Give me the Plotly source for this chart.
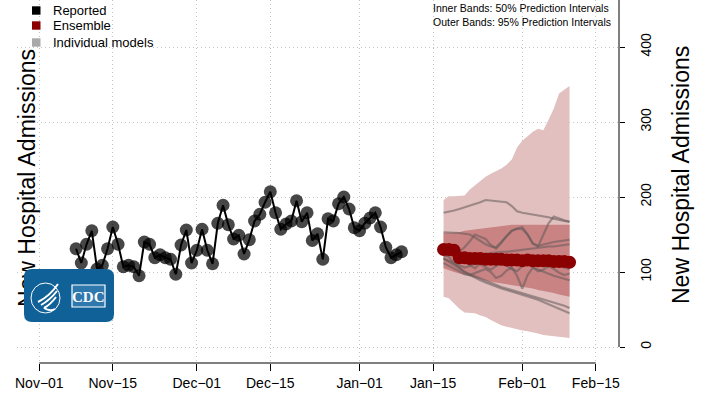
import pandas as pd
import plotly.graph_objects as go

# reported daily admissions, 2021-11-08 .. 2022-01-09
reported_start = '2021-11-08'
reported = [131, 112, 137, 155, 104, 109, 131, 160, 137, 107,
            109, 107, 95, 140, 137, 119, 123, 119, 117, 97,
            136, 156, 112, 129, 157, 129, 111, 165, 189, 163,
            144, 149, 124, 143, 168, 177, 193, 207, 179, 157,
            164, 168, 195, 167, 179, 142, 151, 117, 171, 168,
            191, 200, 184, 159, 155, 165, 172, 179, 160, 133,
            119, 123, 127]

# forecast, 2022-01-17 .. 2022-02-10
forecast_start = '2022-01-17'
ensemble = [130, 130, 129, 119, 119, 118, 118, 118, 117, 117, 117, 117, 116,
            116, 116, 115, 116, 115, 115, 115, 115, 114, 114, 114, 113]
q95_hi = [196, 201, 201, 201, 202, 210, 216, 222, 227, 231, 234, 238, 243,
          250, 266, 275, 281, 287, 291, 289, 303, 318, 338, 343, 348]
q95_lo = [67, 65, 58, 51, 46, 45, 45, 42, 40, 36, 32, 29, 27,
          25, 23, 22, 21, 20, 18, 16, 15, 14, 13, 12, 12]
q50_hi = [152, 152, 152, 153, 155, 156, 157, 158, 159, 160, 161, 162, 162,
          163, 163, 163, 163, 164, 164, 164, 164, 164, 163, 163, 163]
q50_lo = [105, 102, 100, 98, 96, 94, 92, 90, 88, 87, 86, 85, 84,
          82, 81, 80, 79, 78, 76, 75, 73, 72, 70, 69, 67]

model_a = [179, 180, 182, 184, 186, 188, 191, 193, 196, 195, 195, 194, 193,
           188, 181, 179, 178, 177, 176, 175, 173, 171, 169, 168, 167]
model_b = [125, 120, 112, 106, 100, 96, 92, 89, 86, 83, 80, 78, 76,
           74, 72, 70, 68, 65, 63, 60, 57, 54, 51, 48, 45]
model_c = [118, 114, 110, 105, 100, 97, 94, 91, 88, 85, 82, 80, 78,
           76, 74, 71, 69, 67, 65, 63, 61, 59, 57, 55, 52]
model_d = [128, 127, 126, 127, 133, 141, 150, 147, 144, 136, 131, 139, 148,
           155, 158, 160, 150, 138, 134, 150, 165, 174, 171, 169, 167]
model_e = [153, 153, 152, 152, 151, 150, 146, 141, 137, 134, 133, 140, 148,
           155, 158, 157, 150, 138, 135, 137, 139, 140, 141, 142, 143]
model_f = [121, 122, 123, 122, 121, 122, 123, 124, 124, 125, 126, 127, 127,
           128, 129, 130, 131, 131, 132, 133, 134, 134, 135, 136, 137]
model_g = [112, 108, 104, 100, 97, 96, 99, 102, 104, 100, 92, 95, 102,
           106, 95, 78, 96, 106, 103, 100, 97, 95, 93, 91, 89]
model_h = [118, 115, 111, 108, 106, 108, 112, 110, 106, 103, 108, 112, 109,
           104, 101, 108, 112, 106, 101, 103, 108, 104, 99, 96, 98]
model_i = [125, 124, 122, 118, 114, 110, 105, 112, 118, 116, 112, 110, 115,
           120, 118, 112, 110, 116, 120, 118, 114, 110, 108, 106, 104]
models = [model_a, model_b, model_c, model_d, model_e, model_f, model_g, model_h, model_i]

tick_dates = ['2021-11-01', '2021-11-15', '2021-12-01', '2021-12-15',
              '2022-01-01', '2022-01-15', '2022-02-01', '2022-02-15']
tick_text = ['Nov−01', 'Nov−15', 'Dec−01', 'Dec−15',
             'Jan−01', 'Jan−15', 'Feb−01', 'Feb−15']
y_ticks = [0, 100, 200, 300, 400]

rep_dates = pd.date_range(reported_start, periods=len(reported), freq='D')
fc_dates = pd.date_range(forecast_start, periods=len(ensemble), freq='D')

W, H = 702, 394
L, R, T, B = 17, 619, 0, 363
FONT = 'Liberation Sans, Arial, sans-serif'
GRID = dict(showgrid=True, gridcolor='#c4c4c4', griddash='1px,3px', gridwidth=1)


def X(px):
    return (px - L) / (R - L)


def Y(py):
    return (B - py) / (B - T)


origin = pd.Timestamp(tick_dates[0])
x_range = [str(origin - pd.Timedelta(days=4.25)), str(origin + pd.Timedelta(days=110.42))]
y_range = [-21.3, 462.7]

fig = go.Figure()

# outer band (95%)
fig.add_trace(go.Scatter(x=fc_dates, y=q95_lo, mode='lines', line=dict(width=0),
                         showlegend=False, hoverinfo='skip'))
fig.add_trace(go.Scatter(x=fc_dates, y=q95_hi, mode='lines', line=dict(width=0),
                         fill='tonexty', fillcolor='#e2c0c0', showlegend=False))
# inner band (50%)
fig.add_trace(go.Scatter(x=fc_dates, y=q50_lo, mode='lines', line=dict(width=0),
                         showlegend=False, hoverinfo='skip'))
fig.add_trace(go.Scatter(x=fc_dates, y=q50_hi, mode='lines', line=dict(width=0),
                         fill='tonexty', fillcolor='#c98383', showlegend=False))

for m in models:
    fig.add_trace(go.Scatter(x=fc_dates, y=m, mode='lines',
                             line=dict(color='rgba(100,90,90,0.55)', width=2.2),
                             showlegend=False))

fig.add_trace(go.Scatter(x=fc_dates, y=ensemble, mode='markers',
                         marker=dict(color='#8b0000', size=13, line=dict(width=0)),
                         showlegend=False))

fig.add_trace(go.Scatter(x=rep_dates, y=reported, mode='lines+markers',
                         line=dict(color='black', width=2),
                         marker=dict(color='rgba(0,0,0,0.72)', size=13, line=dict(width=0)),
                         showlegend=False))

shapes = []
# x axis line between first and last tick (R style)
shapes.append(dict(type='line', xref='x', yref='paper', x0=tick_dates[0], x1=tick_dates[-1],
                   y0=0, y1=0, line=dict(color='black', width=1)))
# right axis line
shapes.append(dict(type='line', xref='paper', yref='y', x0=1, x1=1, y0=0, y1=y_range[1],
                   line=dict(color='black', width=1)))
# left title, drawn as a shape label so the logo can cover it
shapes.append(dict(type='line', xref='paper', yref='paper', x0=X(25), x1=X(25),
                   y0=Y(318), y1=Y(38), line=dict(color='rgba(0,0,0,0)', width=0),
                   label=dict(text='New Hospital Admissions', textangle=-90,
                              textposition='middle', xanchor='center', yanchor='middle',
                              padding=0, font=dict(family=FONT, size=23, color='black'))))


def rounded(x0, y0, x1, y1, r):
    pts = [
        f'M {X(x0 + r)},{Y(y0)}', f'L {X(x1 - r)},{Y(y0)}',
        f'Q {X(x1)},{Y(y0)} {X(x1)},{Y(y0 + r)}', f'L {X(x1)},{Y(y1 - r)}',
        f'Q {X(x1)},{Y(y1)} {X(x1 - r)},{Y(y1)}', f'L {X(x0 + r)},{Y(y1)}',
        f'Q {X(x0)},{Y(y1)} {X(x0)},{Y(y1 - r)}', f'L {X(x0)},{Y(y0 + r)}',
        f'Q {X(x0)},{Y(y0)} {X(x0 + r)},{Y(y0)}', 'Z']
    return ' '.join(pts)


def curve(*p):
    s = f'M {X(p[0][0])},{Y(p[0][1])} Q {X(p[1][0])},{Y(p[1][1])} {X(p[2][0])},{Y(p[2][1])}'
    return s


# CDC logo
blue = '#0f6198'
shapes.append(dict(type='path', xref='paper', yref='paper', layer='above',
                   path=rounded(24, 269, 114, 322, 8), fillcolor=blue, line=dict(width=0)))
shapes.append(dict(type='circle', xref='paper', yref='paper', layer='above',
                   x0=X(31), x1=X(60), y0=Y(313), y1=Y(283),
                   line=dict(color='white', width=1)))
for pts in [((58, 284), (50, 296), (38, 302)), ((57, 291), (50, 300), (41, 305)),
            ((56, 297), (50, 305), (44, 308)), ((44, 308), (50, 312), (55, 309))]:
    shapes.append(dict(type='path', xref='paper', yref='paper', layer='above',
                       path=curve(*pts), line=dict(color='white', width=2)))
shapes.append(dict(type='rect', xref='paper', yref='paper', layer='above',
                   x0=X(72), x1=X(105), y0=Y(307), y1=Y(285),
                   fillcolor='#2f78ae', line=dict(color='white', width=1.2)))

# legend keys
for py, col in [(10.5, 'black'), (25.5, '#8b0000'), (42.5, '#a9a9a9')]:
    shapes.append(dict(type='rect', xref='paper', yref='paper',
                       x0=X(32), x1=X(40.5), y0=Y(py + 4.2), y1=Y(py - 4.2),
                       fillcolor=col, line=dict(width=0)))

annotations = []
for py, txt in [(10.5, 'Reported'), (25.5, 'Ensemble'), (42.5, 'Individual models')]:
    annotations.append(dict(xref='paper', yref='paper', x=X(51), y=Y(py), text=txt,
                            xanchor='left', yanchor='middle', showarrow=False,
                            font=dict(family=FONT, size=13, color='black')))
for py, txt in [(8, 'Inner Bands: 50% Prediction Intervals'),
                (22, 'Outer Bands: 95% Prediction Intervals')]:
    annotations.append(dict(xref='paper', yref='paper', x=X(431), y=Y(py), text=txt,
                            xanchor='left', yanchor='middle', showarrow=False,
                            font=dict(family=FONT, size=10.5, color='black')))
annotations.append(dict(xref='paper', yref='paper', x=X(681), y=Y(175),
                        text='New Hospital Admissions', textangle=-90, showarrow=False,
                        xanchor='center', yanchor='middle',
                        font=dict(family=FONT, size=23, color='black')))
annotations.append(dict(xref='paper', yref='paper', x=X(88.5), y=Y(296.5), text='<b>CDC</b>',
                        showarrow=False, xanchor='center', yanchor='middle',
                        font=dict(family='Liberation Serif, serif', size=15, color='white')))

fig.update_layout(
    width=W, height=H,
    margin=dict(l=L, r=W - R, t=T, b=H - B, autoexpand=False),
    paper_bgcolor='white', plot_bgcolor='white',
    showlegend=False,
    shapes=shapes, annotations=annotations,
    font=dict(family=FONT, color='black'),
    xaxis=dict(type='date', range=x_range, tickvals=tick_dates, ticktext=tick_text,
               showline=False, zeroline=False, ticks='outside', ticklen=7,
               tickcolor='black', tickwidth=1, tickfont=dict(size=14, family=FONT), **GRID),
    yaxis=dict(range=y_range, side='right', tickvals=y_ticks, tickangle=-90,
               showline=False, zeroline=False, ticks='outside', ticklen=5,
               ticklabelstandoff=9,
               tickcolor='black', tickfont=dict(size=14, family=FONT), **GRID),
)

fig.write_html('out.html', config={'displayModeBar': False},
               post_script="document.body.style.margin='0';")
